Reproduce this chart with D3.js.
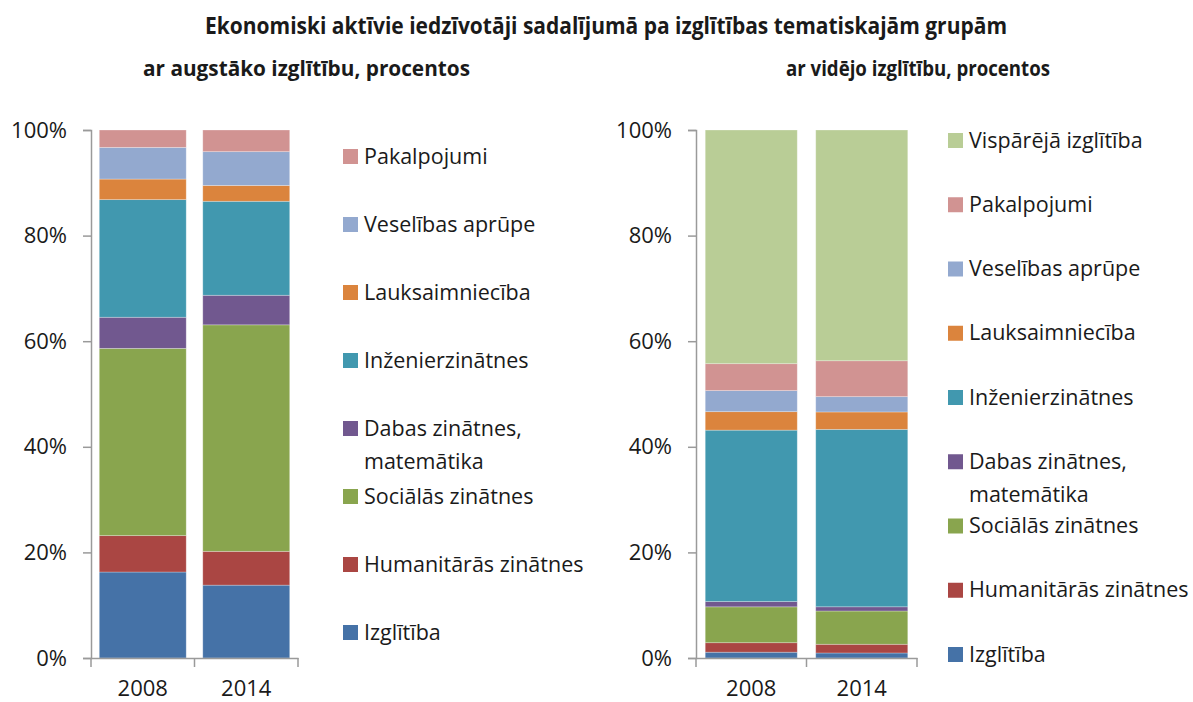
<!DOCTYPE html>
<html>
<head>
<meta charset="utf-8">
<script src="https://cdn.jsdelivr.net/npm/d3@7"></script>
<style>
  body { margin: 0; background: #fff; }
  text { font-family: "Open Sans", "Noto Sans", sans-serif; fill: #1a1a1a; }
</style>
</head>
<body>
<svg id="chart" width="1193" height="702"></svg>
<script>
// categories (bottom to top in the stack)
var categories = ["Izglītība", "Humanitārās zinātnes", "Sociālās zinātnes",
  "Dabas zinātnes, matemātika", "Inženierzinātnes", "Lauksaimniecība",
  "Veselības aprūpe", "Pakalpojumi", "Vispārējā izglītība"];
var colors = ["#4572A7", "#AA4643", "#89A54E", "#71588F", "#4198AF",
  "#DB843D", "#93A9CF", "#D19392", "#B9CD96"];
var years = ["2008", "2014"];

// ar augstāko izglītību, %
var higher2008 = [16.3, 6.9, 35.5, 5.9, 22.3, 3.9, 6.0, 3.3];
var higher2014 = [13.8, 6.4, 42.9, 5.6, 17.8, 3.0, 6.4, 4.1];
// ar vidējo izglītību, %
var secondary2008 = [1.1, 1.8, 6.8, 1.0, 32.5, 3.5, 4.0, 5.1, 44.3];
var secondary2014 = [0.95, 1.65, 6.3, 0.8, 33.6, 3.3, 2.9, 6.8, 43.7];

var yTicks = [0, 0.2, 0.4, 0.6, 0.8, 1];

var svg = d3.select("#chart");

svg.append("text")
  .attr("x", 606).attr("y", 34)
  .attr("text-anchor", "middle")
  .style("font-weight", "bold").style("font-size", "24px")
  .attr("textLength", 802).attr("lengthAdjust", "spacingAndGlyphs")
  .text("Ekonomiski aktīvie iedzīvotāji sadalījumā pa izglītības tematiskajām grupām");

function drawChart(opt) {
  var n = opt.series[0].length;
  var keys = categories.slice(0, n);
  var rows = years.map(function(yr, i) {
    var r = {year: yr};
    keys.forEach(function(k, j) { r[k] = opt.series[i][j]; });
    return r;
  });
  var stacked = d3.stack().keys(keys).offset(d3.stackOffsetExpand)(rows);

  var x = d3.scaleBand().domain(years).range(opt.xRange)
    .paddingInner(opt.pad).paddingOuter(opt.pad / 2);
  var y = d3.scaleLinear().domain([0, 1]).range([658, 130]);

  svg.append("text")
    .attr("x", opt.subX).attr("y", 76)
    .style("font-weight", "bold").style("font-size", "21px")
    .attr("textLength", opt.subW).attr("lengthAdjust", "spacingAndGlyphs")
    .text(opt.subtitle);

  var g = svg.append("g");
  g.selectAll("g.layer")
    .data(stacked)
    .enter().append("g")
      .attr("fill", function(d, i) { return colors[i]; })
    .selectAll("rect")
    .data(function(d) { return d; })
    .enter().append("rect")
      .attr("x", function(d) { return x(d.data.year); })
      .attr("y", function(d) { return y(d[1]); })
      .attr("width", x.bandwidth())
      .attr("height", function(d) { return y(d[0]) - y(d[1]); })
      .attr("stroke", "#fff").attr("stroke-opacity", 0.35).attr("stroke-width", 0.8);

  // y axis
  var ya = g.append("g")
    .attr("transform", "translate(" + opt.xRange[0] + ",0)")
    .call(d3.axisLeft(y).tickValues(yTicks).tickFormat(d3.format(".0%")).tickSize(8).tickPadding(16));
  ya.select(".domain").attr("stroke", "#9a9a9a").attr("stroke-width", 1.5);
  ya.selectAll(".tick line").attr("stroke", "#9a9a9a").attr("stroke-width", 1.5);
  ya.selectAll("text").style("font-size", "22px").attr("fill", "#1a1a1a")
    .style("font-family", "'Open Sans', sans-serif");

  // x axis
  var xa = g.append("g")
    .attr("transform", "translate(0,658)")
    .call(d3.axisBottom(x).tickSize(0).tickPadding(22));
  xa.select(".domain").attr("stroke", "#9a9a9a").attr("stroke-width", 1.5);
  xa.selectAll("text").style("font-size", "22px").attr("fill", "#1a1a1a")
    .style("font-family", "'Open Sans', sans-serif");
  // category separators
  var edges = [opt.xRange[0]].concat(years.map(function(yr) { return x(yr) + x.bandwidth() + x.step() * x.paddingInner() / 2; }));
  edges[edges.length - 1] = opt.xRange[1];
  xa.selectAll("line.sep").data(edges).enter().append("line")
    .attr("x1", function(d) { return d; }).attr("x2", function(d) { return d; })
    .attr("y1", 0).attr("y2", 9)
    .attr("stroke", "#9a9a9a").attr("stroke-width", 1.5);

  // legend, top item = last series
  var legendKeys = keys.slice().reverse();
  var ly = d3.scalePoint().domain(legendKeys).range(opt.legendY);
  var lg = svg.append("g").selectAll("g")
    .data(legendKeys)
    .enter().append("g")
      .attr("transform", function(d) { return "translate(" + opt.legendX + "," + ly(d) + ")"; });
  lg.append("rect")
    .attr("x", 0).attr("y", -7).attr("width", 15).attr("height", 15)
    .attr("fill", function(d) { return colors[categories.indexOf(d)]; });
  lg.append("text")
    .attr("x", 21)
    .style("font-size", "21.5px")
    .each(function(d) {
      var t = d3.select(this);
      var parts = d.indexOf(", ") > 0 ? [d.split(", ")[0] + ",", d.split(", ")[1]] : [d];
      parts.forEach(function(p, i) {
        t.append("tspan").attr("x", 21).attr("dy", i === 0 ? "0.35em" : "1.55em").text(p);
      });
    });
}

drawChart({
  series: [higher2008, higher2014],
  xRange: [91, 298], pad: 0.16,
  subtitle: "ar augstāko izglītību, procentos", subX: 143, subW: 327,
  legendX: 343, legendY: [156, 632]
});

drawChart({
  series: [secondary2008, secondary2014],
  xRange: [696, 917], pad: 0.167,
  subtitle: "ar vidējo izglītību, procentos", subX: 786, subW: 264,
  legendX: 948, legendY: [140, 654]
});
</script>
</body>
</html>
